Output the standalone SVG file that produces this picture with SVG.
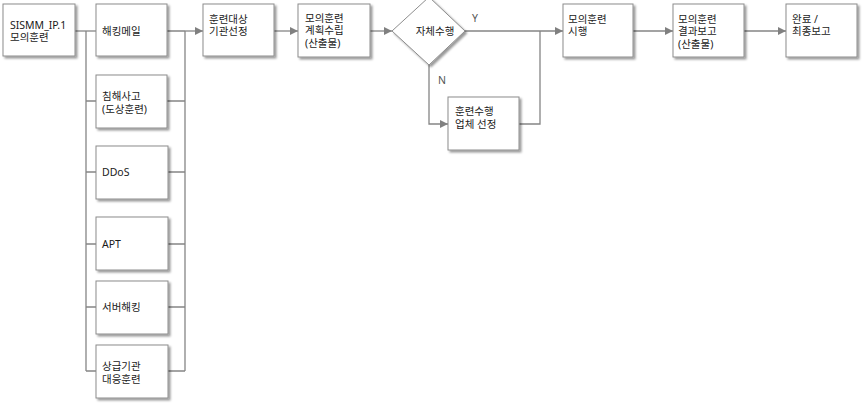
<svg xmlns="http://www.w3.org/2000/svg" width="862" height="409" viewBox="0 0 862 409">
<defs>
<filter id="sh" x="-10%" y="-10%" width="130%" height="130%">
<feDropShadow dx="2" dy="2" stdDeviation="1.2" flood-color="#000" flood-opacity="0.4"/>
</filter>
<marker id="ar" viewBox="0 0 10 10" refX="10" refY="5" markerWidth="8" markerHeight="8" markerUnits="userSpaceOnUse" orient="auto">
<path d="M0,0 L10,5 L0,10 z" fill="#808080"/>
</marker>
</defs>
<style>
.b{fill:#fff;stroke:#8c8c8c;stroke-width:1;filter:url(#sh)}
.t{font-family:"Noto Sans","Noto Sans CJK KR",sans-serif;font-size:10.5px;fill:#1a1a1a}
.l{font-family:"Noto Sans","Noto Sans CJK KR",sans-serif;font-size:10.5px;fill:#555}
.c{fill:none;stroke:#858585;stroke-width:1.3}
</style>
<rect width="862" height="409" fill="#fff"/>
<g id="connectors">
<path class="c" d="M75,31 H96"/>
<path class="c" d="M86,31 V371"/>
<path class="c" d="M86,101 H96 M86,172 H96 M86,244 H96 M86,307 H96 M86,371 H96"/>
<path class="c" d="M167,31 H185 M167,101 H185 M168,172 H185 M168,244 H185 M168,307 H185 M168,371 H185"/>
<path class="c" d="M185,31 V371"/>
<path class="c" d="M185,31 H203" marker-end="url(#ar)"/>
<path class="c" d="M274,31 H298" marker-end="url(#ar)"/>
<path class="c" d="M370,31 H392" marker-end="url(#ar)"/>
<path class="c" d="M465,31 H563" marker-end="url(#ar)"/>
<path class="c" d="M429,65 V124 H448" marker-end="url(#ar)"/>
<path class="c" d="M519,124 H540 V31"/>
<path class="c" d="M633,31 H673" marker-end="url(#ar)"/>
<path class="c" d="M744,31 H786" marker-end="url(#ar)"/>
<text class="l" x="472" y="22">Y</text>
<text class="l" x="438" y="84">N</text>
</g>
<g id="n1"><rect class="b" x="3" y="4" width="72" height="52"/><text class="t" x="10" y="28.5">SISMM_IP.1</text><text class="t" x="10" y="41">모의훈련</text></g>
<g id="n2"><rect class="b" x="96" y="4" width="71" height="52"/><text class="t" x="102" y="35">해킹메일</text></g>
<g id="n3"><rect class="b" x="96" y="75" width="71" height="53"/><text class="t" x="102" y="100">침해사고</text><text class="t" x="102" y="112.5">(도상훈련)</text></g>
<g id="n4"><rect class="b" x="96" y="146" width="72" height="53"/><text class="t" x="102" y="176">DDoS</text></g>
<g id="n5"><rect class="b" x="96" y="217" width="72" height="53"/><text class="t" x="102" y="248">APT</text></g>
<g id="n6"><rect class="b" x="96" y="281" width="72" height="53"/><text class="t" x="102" y="311">서버해킹</text></g>
<g id="n7"><rect class="b" x="96" y="345" width="72" height="53"/><text class="t" x="102" y="370">상급기관</text><text class="t" x="102" y="382.5">대응훈련</text></g>
<g id="n8"><rect class="b" x="203" y="4" width="71" height="52"/><text class="t" x="209" y="22.5">훈련대상</text><text class="t" x="209" y="35">기관선정</text></g>
<g id="n9"><rect class="b" x="298" y="4" width="72" height="53"/><text class="t" x="305" y="21.5">모의훈련</text><text class="t" x="305" y="34">계획수립</text><text class="t" x="305" y="46.5">(산출물)</text></g>
<g id="n10"><path class="b" d="M429,-3 L465,31 L429,65 L392,31 z"/><text class="t" x="435" y="35" text-anchor="middle">자체수행</text></g>
<g id="n11"><rect class="b" x="448" y="97" width="71" height="53"/><text class="t" x="455" y="115">훈련수행</text><text class="t" x="455" y="127.5">업체 선정</text></g>
<g id="n12"><rect class="b" x="563" y="4" width="70" height="53"/><text class="t" x="568" y="22.5">모의훈련</text><text class="t" x="568" y="35">시행</text></g>
<g id="n13"><rect class="b" x="673" y="4" width="71" height="53"/><text class="t" x="678" y="22.5">모의훈련</text><text class="t" x="678" y="35">결과보고</text><text class="t" x="678" y="47.5">(산출물)</text></g>
<g id="n14"><rect class="b" x="786" y="4" width="71" height="53"/><text class="t" x="792" y="22.5">완료 /</text><text class="t" x="792" y="35">최종보고</text></g>
</svg>
